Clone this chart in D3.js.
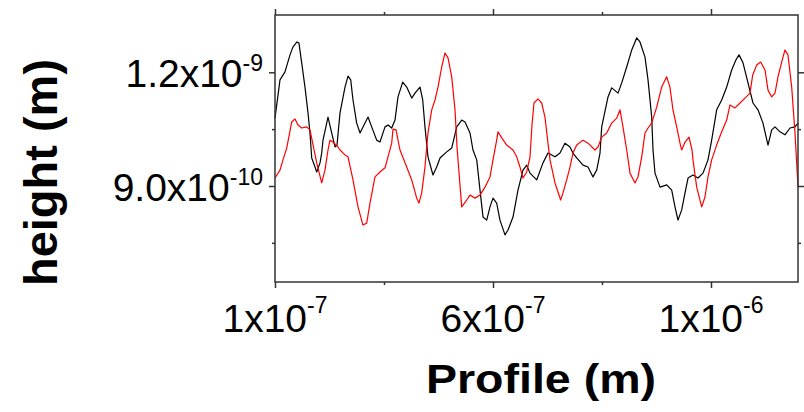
<!DOCTYPE html>
<html>
<head>
<meta charset="utf-8">
<script src="https://cdn.jsdelivr.net/npm/d3@7"></script>
<style>
  body { margin: 0; background: #fff; }
  svg { display: block; font-family: "Liberation Sans", Arial, sans-serif; }
</style>
</head>
<body>
<svg width="804" height="412"></svg>
<script>
// profile position in nm, height in Angstrom (1e-10 m)
const blackProfile = [[100,10.79],[110.3,11.80],[120.6,12.01],[131.0,12.46],[137.2,12.67],[145.4,12.80],[149.5,12.77],[155.1,12.25],[161.9,11.61],[168.1,10.93],[172.2,10.40],[175.8,9.74],[182.6,9.50],[186.1,9.37],[192.9,9.61],[196.4,9.87],[199.1,10.21],[209.4,10.82],[217.0,10.40],[223.9,10.03],[228.0,10.08],[234.2,10.93],[244.5,11.61],[250.7,11.90],[256.3,11.80],[261.0,11.27],[268.6,10.66],[275.5,10.40],[285.8,10.66],[292.0,10.82],[299.6,10.56],[309.9,10.21],[316.7,10.16],[327.1,10.56],[333.3,10.61],[340.9,10.53],[347.7,10.74],[353.9,11.35],[363.6,11.74],[371.9,11.61],[382.2,11.32],[389.0,11.45],[399.3,11.61],[404.9,11.27],[409.6,10.56],[415.8,9.77],[426.1,9.29],[433.8,9.50],[440.6,9.74],[454.4,9.90],[464.8,10.00],[475.1,10.56],[485.4,10.74],[492.2,10.69],[502.5,10.40],[508.7,9.95],[516.4,9.69],[523.2,8.89],[529.4,8.18],[537.0,8.10],[543.8,8.45],[550.0,8.68],[557.6,8.55],[564.4,8.10],[574.8,7.71],[581.0,7.84],[591.3,8.18],[601.6,8.89],[611.9,9.42],[619.6,9.55],[626.4,9.34],[640.2,9.16],[653.2,9.61],[663.5,9.87],[678.0,9.77],[688.3,9.87],[698.6,10.13],[708.9,10.03],[715.1,9.87],[722.8,9.74],[735.8,9.55],[746.1,9.50],[756.4,9.24],[764.1,9.42],[770.9,9.87],[774.4,10.56],[787.4,11.35],[795.1,11.59],[808.1,11.45],[815.7,11.72],[826.0,12.14],[836.4,12.59],[846.7,12.91],[853.4,12.80],[863.8,12.40],[870.0,11.80],[877.6,10.82],[880.3,9.95],[884.4,9.34],[894.7,8.97],[908.6,9.03],[918.9,8.89],[925.7,8.45],[931.9,8.10],[939.5,8.37],[946.4,8.82],[952.6,9.21],[962.8,9.29],[973.2,9.21],[983.5,9.34],[993.8,9.69],[1001.4,10.21],[1011.7,11.01],[1022.1,11.27],[1032.4,11.61],[1042.7,12.06],[1051.6,12.33],[1057.8,12.46],[1066.1,12.25],[1076.4,11.72],[1086.7,11.19],[1097.0,11.01],[1107.3,10.66],[1117.7,10.08],[1125.3,10.48],[1132.1,10.56],[1142.4,10.43],[1152.7,10.35],[1163.1,10.53],[1173.4,10.56],[1179.6,10.66]];

const redProfile = [[100,9.21],[110.3,9.42],[116.5,9.69],[124.2,10.00],[134.5,10.69],[141.3,10.77],[147.5,10.61],[155.1,10.53],[165.4,10.56],[172.2,10.48],[177.8,10.13],[186.1,9.61],[196.4,9.08],[203.2,9.42],[209.4,9.95],[213.5,10.21],[219.7,10.16],[230.0,10.03],[234.2,9.95],[244.5,9.82],[250.7,9.77],[261.0,9.16],[271.3,8.45],[281.6,7.97],[289.3,8.02],[296.1,8.55],[306.4,9.24],[316.7,9.37],[327.1,9.48],[333.3,9.77],[340.9,10.13],[343.6,10.50],[349.8,10.48],[353.9,10.21],[358.0,9.95],[371.9,9.50],[382.2,9.16],[392.5,8.68],[397.2,8.55],[402.8,8.82],[409.6,9.50],[413.1,10.03],[415.8,10.40],[423.5,11.01],[430.3,11.27],[436.5,11.61],[444.1,12.14],[450.9,12.51],[457.1,12.38],[464.8,11.88],[471.6,11.01],[475.7,10.03],[485.4,8.45],[495.7,8.63],[502.5,8.76],[512.8,8.68],[523.2,8.76],[533.5,8.97],[543.8,9.24],[550.0,9.69],[557.6,10.21],[560.3,10.43],[568.1,10.27],[578.3,10.08],[591.3,9.95],[598.9,9.77],[605.7,9.50],[611.9,9.21],[619.6,9.37],[626.4,9.77],[630.5,10.61],[634.6,11.19],[642.9,11.30],[650.5,11.19],[657.3,10.82],[663.5,10.13],[667.7,9.69],[678.0,9.08],[689.7,8.63],[694.5,8.82],[702.1,9.16],[708.9,9.50],[715.1,9.87],[722.8,10.08],[735.8,10.21],[746.1,10.13],[760.5,9.95],[766.7,10.03],[774.4,10.29],[784.7,10.40],[795.1,10.66],[805.4,10.79],[812.2,11.01],[818.3,10.56],[826.0,9.95],[832.8,9.34],[843.1,9.08],[849.3,9.24],[857.0,9.77],[863.8,10.40],[870.0,10.53],[877.6,10.66],[887.9,11.08],[898.2,11.61],[908.6,11.88],[915.3,11.61],[921.5,11.01],[929.2,10.56],[936.0,10.13],[939.5,9.95],[946.4,10.16],[954.6,10.29],[960.9,9.95],[962.8,9.69],[970.5,8.97],[980.8,8.45],[987.6,8.71],[993.8,9.24],[1001.4,9.69],[1011.7,10.08],[1022.1,10.43],[1032.4,10.74],[1039.2,11.14],[1049.5,11.06],[1059.9,11.19],[1070.2,11.32],[1080.5,11.45],[1086.1,11.93],[1094.3,12.19],[1102.6,12.27],[1111.5,12.06],[1117.7,11.53],[1125.3,11.35],[1132.1,11.45],[1138.3,11.88],[1145.9,12.27],[1152.7,12.59],[1158.9,12.46],[1166.6,11.61],[1173.4,10.40],[1179.6,8.97]];

const xMajorTicks = [1e-7, 5.5e-7, 1e-6];
const xMinorTicks = [3.25e-7, 7.75e-7];
const xTickMant = ["1x10", "6x10", "1x10"];
const xTickExp = ["-7", "-7", "-6"];

const yMajorTicks = [9e-10, 1.2e-9];
const yMinorTicks = [7.5e-10, 1.05e-9];
const yTickMant = ["9.0x10", "1.2x10"];
const yTickExp = ["-10", "-9"];

const plot = {left: 275, top: 15, right: 798, bottom: 282};
const axisColor = "#333";

const svg = d3.select("svg");

const x = d3.scaleLinear()
    .domain([1e-7, 1.1796e-6])
    .range([plot.left, plot.right]);
const y = d3.scaleLinear()
    .domain([6.467e-10, 1.3512e-9])
    .range([plot.bottom, plot.top]);

const line = d3.line()
    .x(d => x(d[0] * 1e-9))
    .y(d => y(d[1] * 1e-10));

svg.append("path")
    .datum(blackProfile)
    .attr("d", line)
    .attr("fill", "none")
    .attr("stroke", "#000")
    .attr("stroke-width", 1.2)
    .attr("stroke-linejoin", "round");

svg.append("path")
    .datum(redProfile)
    .attr("d", line)
    .attr("fill", "none")
    .attr("stroke", "#ff0000")
    .attr("stroke-width", 1.2)
    .attr("stroke-linejoin", "round");

// ticks on all four sides, major and minor
function addTicks(axis, tr) {
    const g = svg.append("g").attr("transform", tr).call(axis.tickFormat(""));
    g.select(".domain").remove();
    g.selectAll(".tick line").attr("stroke", axisColor).attr("stroke-width", 1.5);
}
addTicks(d3.axisBottom(x).tickValues(xMajorTicks).tickSize(6), `translate(0,${plot.bottom})`);
addTicks(d3.axisBottom(x).tickValues(xMinorTicks).tickSize(3), `translate(0,${plot.bottom})`);
addTicks(d3.axisTop(x).tickValues(xMajorTicks).tickSize(6), `translate(0,${plot.top})`);
addTicks(d3.axisTop(x).tickValues(xMinorTicks).tickSize(3), `translate(0,${plot.top})`);
addTicks(d3.axisLeft(y).tickValues(yMajorTicks).tickSize(6), `translate(${plot.left},0)`);
addTicks(d3.axisLeft(y).tickValues(yMinorTicks).tickSize(3), `translate(${plot.left},0)`);
addTicks(d3.axisRight(y).tickValues(yMajorTicks).tickSize(6), `translate(${plot.right},0)`);
addTicks(d3.axisRight(y).tickValues(yMinorTicks).tickSize(3), `translate(${plot.right},0)`);

svg.append("rect")
    .attr("x", plot.left)
    .attr("y", plot.top)
    .attr("width", plot.right - plot.left)
    .attr("height", plot.bottom - plot.top)
    .attr("fill", "none")
    .attr("stroke", axisColor)
    .attr("stroke-width", 1.5);

// tick labels with superscript exponents
const xLabels = svg.append("g").selectAll("text")
    .data(xMajorTicks)
    .join("text")
    .attr("x", d => x(d))
    .attr("y", plot.bottom + 50)
    .attr("text-anchor", "middle")
    .style("font-size", "39px")
    .attr("fill", "#000");
xLabels.append("tspan").text((d, i) => xTickMant[i]);
xLabels.append("tspan")
    .attr("dy", -19)
    .style("font-size", "23px")
    .text((d, i) => xTickExp[i]);

const yLabels = svg.append("g").selectAll("text")
    .data(yMajorTicks)
    .join("text")
    .attr("x", 263)
    .attr("y", d => y(d) + 15)
    .attr("text-anchor", "end")
    .style("font-size", "39px")
    .attr("fill", "#000");
yLabels.append("tspan").text((d, i) => yTickMant[i]);
yLabels.append("tspan")
    .attr("dy", -16)
    .style("font-size", "23px")
    .text((d, i) => yTickExp[i]);

// axis titles
svg.append("text")
    .attr("x", 541)
    .attr("y", 393)
    .attr("text-anchor", "middle")
    .attr("textLength", 230)
    .attr("lengthAdjust", "spacingAndGlyphs")
    .style("font-size", "41px")
    .style("font-weight", "bold")
    .text("Profile (m)");

svg.append("text")
    .attr("transform", "translate(57,172.5) rotate(-90)")
    .attr("text-anchor", "middle")
    .style("font-size", "47px")
    .style("font-weight", "bold")
    .text("height (m)");
</script>
</body>
</html>
